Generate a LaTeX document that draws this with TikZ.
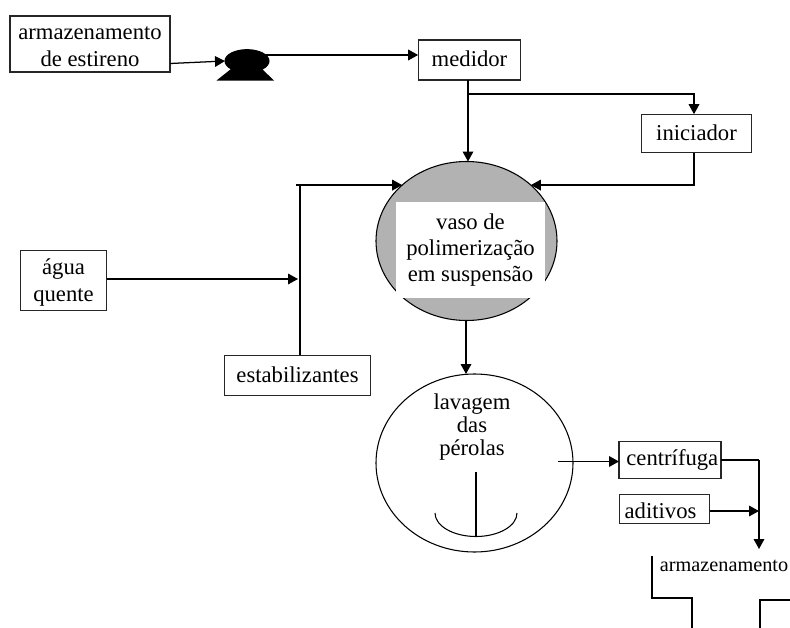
\documentclass[tikz,border=0pt]{standalone}
\usepackage{fontspec}
\setmainfont{Liberation Serif}
\usetikzlibrary{arrows.meta,shapes.geometric}
\tikzset{
	caixa/.style={draw=black!85, line width=0.9pt, rectangle, inner sep=0pt, outer sep=0pt, align=center, font=\fontsize{17}{20.2}\selectfont},
	vaso/.style={draw=black, line width=0.8pt, ellipse, inner sep=0pt, outer sep=0pt},
	seta/.style={line width=0.95pt, -{Triangle[length=7.5pt,width=8pt]}},
	linha/.style={line width=0.95pt}
}

\begin{document}
\begin{tikzpicture}[x=0.75pt, y=-0.75pt]
		%%%%% START %%%%%
		\useasboundingbox (0, 0) rectangle (790, 628);
		
		\node[caixa, minimum width=120pt, minimum height=42pt] (estireno) at (90, 44) {\rule{0pt}{14pt}armazenamento\\de estireno};
		\node[caixa, minimum width=77pt, minimum height=30pt] (medidor) at (469.5, 60) {\raisebox{2pt}{medidor}};
		\node[caixa, minimum width=83pt, minimum height=29pt] (iniciador) at (696.5, 133.5) {\raisebox{1.5pt}{iniciador}};
		\node[caixa, minimum width=65pt, minimum height=45.5pt] (agua) at (63.5, 280.5) {\rule{0pt}{15.5pt}água\\quente};
		\node[caixa, minimum width=109pt, minimum height=30.5pt] (estabilizantes) at (297.5, 375.5) {\raisebox{2pt}{estabilizantes}};
		\node[caixa, minimum width=76.5pt, minimum height=28pt] (centrifuga) at (670, 460) {\hspace*{3.5pt}\raisebox{0.7pt}{centrífuga}};
		\node[caixa, minimum width=68pt, minimum height=21.5pt] (aditivos) at (664.5, 509) {\hspace*{-6pt}\rule{0pt}{14.5pt}aditivos};
		
		% bomba
		\fill (216.5, 80.5) -- (274, 80.5) -- (262, 69) -- (231, 69) -- cycle;
		\node[vaso, fill=black, minimum width=33pt, minimum height=17pt] (bomba) at (247, 61) {};
		
		% vaso de polimerizacao
		\node[vaso, fill=black!30, minimum width=135.75pt, minimum height=119.25pt] (reator) at (466.5, 241) {};
		\node[fill=white, minimum width=111.75pt, minimum height=72pt, inner sep=0pt, align=center, font=\fontsize{17}{19.2}\selectfont] (polimerizacao) at (470.5, 250) {vaso de\\polimerização\\em suspensão};
		
		% lavagem
		\node[vaso, minimum width=147.75pt, minimum height=133.5pt] (lavagem) at (474.5, 463) {};
		\node[align=center, inner sep=0pt, font=\fontsize{17}{17}\selectfont] (perolas) at (472, 427) {lavagem\\das\\pérolas};
		\draw[line width=0.8pt] (476, 472) -- (476, 536.5);
		\draw[line width=0.8pt] (435, 513) arc (180:0:41 and 23.5);
		
		\coordinate (ramo) at (468, 94);
		\coordinate (topo) at (296, 185);
		\coordinate (tronco) at (300, 279);
		\coordinate (saida) at (558, 461.5);
		\coordinate (descida) at (759, 460);
		\coordinate (tanque) at (759, 549);
		
		\draw[seta] (estireno.east |- 0, 63.5) -- (bomba.west);
		\draw[seta] (bomba.north east |- 0, 55) -- (medidor.west |- 0, 55);
		\draw[seta] (ramo |- medidor.south) -- (ramo |- reator.north);
		\draw[seta] (ramo) -| (iniciador.north -| 694, 0);
		\draw[seta] (iniciador.south -| 694, 0) |- (reator.41);
		\draw[seta] (topo |- reator.139) -- (reator.139);
		\draw[linha] (tronco |- reator.139) -- (tronco |- estabilizantes.north);
		\draw[seta] (agua.east |- tronco) -- (298, 279);
		\draw[seta] (466, 320) -- (466, 374);
		\draw[seta] (saida) -- (saida -| centrifuga.west);
		\draw[linha] (centrifuga.east |- descida) -- (descida);
		\draw[seta] (descida) -- (tanque);
		\draw[seta] (aditivos.east |- 0, 511) -- (descida |- 0, 511);
		
		% armazenamento
		\node[inner sep=0pt, font=\fontsize{15.2}{17}\selectfont] (armazenamento) at (724, 566) {armazenamento};
		\draw[line width=0.8pt] (652, 556) -- (652, 598) -- (692, 598) -- (692, 628);
		\draw[line width=0.8pt] (760, 628) -- (760, 600) -- (790, 600);
		%%%%% END %%%%%
	\end{tikzpicture}
\end{document}
